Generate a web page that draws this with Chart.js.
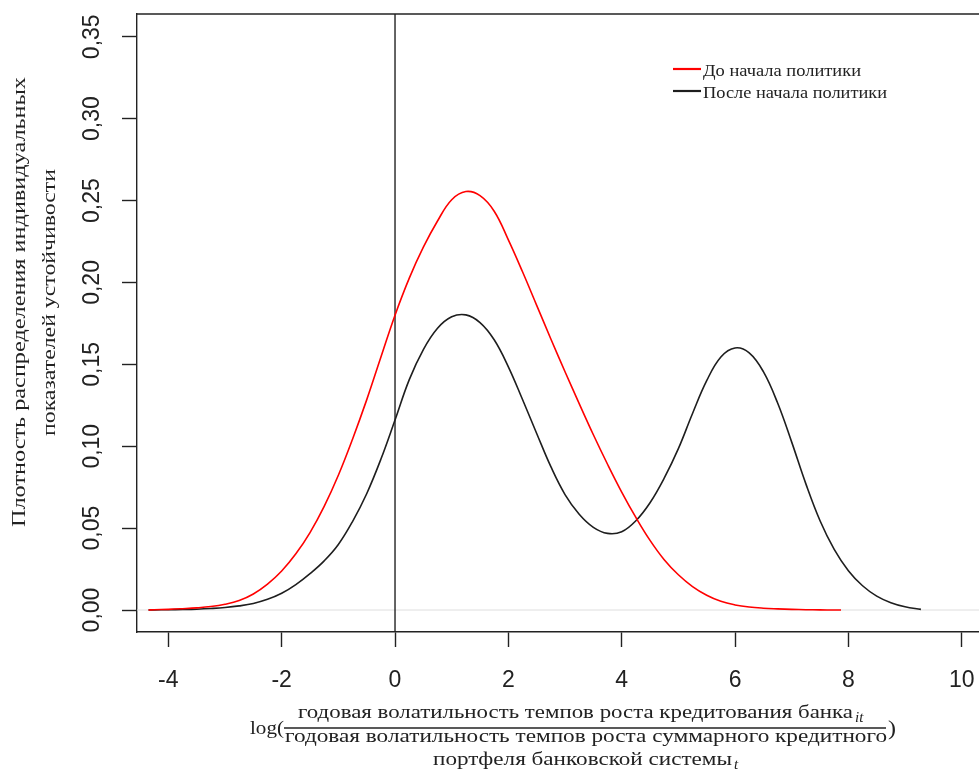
<!DOCTYPE html>
<html>
<head>
<meta charset="utf-8">
<script src="https://cdn.jsdelivr.net/npm/chart.js@4.4.1/dist/chart.umd.min.js"></script>
<style>
  html, body { margin: 0; padding: 0; background: #fff; overflow: hidden; }
</style>
</head>
<body>
<canvas id="chart" width="979" height="774"></canvas>
<script>
// tick values
const xTicks = [-4, -2, 0, 2, 4, 6, 8, 10];
const yTicks = [0, 0.05, 0.10, 0.15, 0.20, 0.25, 0.30, 0.35];

// density before policy (red)
const redX = [-4.35, -4.25, -4, -3.75, -3.5, -3.25, -3, -2.75, -2.5, -2.25, -2, -1.75, -1.5, -1.25, -1, -0.75, -0.5, -0.25,
  0, 0.25, 0.5, 0.75, 1, 1.25, 1.5, 1.75, 2, 2.25, 2.5, 2.75, 3, 3.25, 3.5, 3.75, 4, 4.25, 4.5, 4.75,
  5, 5.25, 5.5, 5.75, 6, 6.25, 6.5, 6.75, 7, 7.25, 7.5, 7.75, 7.87];
const redY = [0, 0.0002, 0.0004, 0.0008, 0.0013, 0.0021, 0.0035, 0.0058, 0.0098, 0.0158, 0.0238, 0.0343, 0.0473, 0.0633, 0.0823, 0.1043, 0.1283, 0.1543,
  0.180, 0.2025, 0.2215, 0.2375, 0.2505, 0.2555, 0.253, 0.2435, 0.226, 0.2065, 0.186, 0.1655, 0.1455, 0.126, 0.107, 0.089, 0.072, 0.0565, 0.0425, 0.0307,
  0.0215, 0.0143, 0.009, 0.0053, 0.0031, 0.0018, 0.0011, 0.0007, 0.0004, 0.0002, 0.0001, 0, 0];

// density after policy (black)
const blackX = [-4.35, -4.25, -4, -3.75, -3.5, -3.25, -3, -2.75, -2.5, -2.25, -2, -1.75, -1.5, -1.25, -1, -0.75, -0.5, -0.25,
  0, 0.25, 0.5, 0.75, 1, 1.25, 1.5, 1.75, 2, 2.25, 2.5, 2.75, 3, 3.25, 3.5, 3.75, 4, 4.25, 4.5, 4.75,
  5, 5.25, 5.5, 5.75, 6, 6.25, 6.5, 6.75, 7, 7.25, 7.5, 7.75, 8, 8.25, 8.5, 8.75, 9, 9.28];
const blackY = [0, 0.0001, 0.0002, 0.0003, 0.0005, 0.0009, 0.0015, 0.0025, 0.004, 0.0065, 0.0102, 0.0155, 0.0222, 0.030, 0.040, 0.054, 0.071, 0.092,
  0.116, 0.1405, 0.159, 0.172, 0.179, 0.1802, 0.1755, 0.165, 0.1485, 0.1285, 0.1078, 0.0875, 0.0705, 0.0585, 0.0505, 0.0468, 0.0478, 0.0545, 0.0655, 0.0805,
  0.0985, 0.120, 0.140, 0.1545, 0.160, 0.157, 0.1455, 0.1265, 0.1025, 0.077, 0.0545, 0.037, 0.024, 0.0148, 0.0085, 0.0045, 0.002, 0.0004];

const seriesNames = ['До начала политики', 'После начала политики'];
const yTitle = ['Плотность распределения индивидуальных', 'показателей устойчивости'];
const xTitleNum = 'годовая волатильность темпов роста кредитования банка';
const xTitleDen = 'годовая волатильность темпов роста суммарного кредитного';
const xTitleLast = 'портфеля банковской системы';

const INK = '#222';

function pts(xs, ys) {
  return xs.map((v, i) => ({x: v, y: ys[i]}));
}

// draw text squeezed/stretched to a given width
function fitText(ctx, text, x, y, w) {
  const m = ctx.measureText(text).width;
  ctx.save();
  ctx.translate(x, y);
  ctx.scale(w / m, 1);
  ctx.fillText(text, 0, 0);
  ctx.restore();
}

// no extra room for overhanging tick labels
function noPad(s) {
  s.paddingLeft = 0; s.paddingRight = 0; s.paddingTop = 0; s.paddingBottom = 0;
}

const decor = {
  id: 'decor',
  beforeDatasetsDraw(chart) {
    const {ctx, chartArea: a, scales: {x, y}} = chart;
    ctx.save();
    // zero density line
    const y0 = y.getPixelForValue(0);
    ctx.strokeStyle = '#dedede';
    ctx.lineWidth = 1;
    ctx.beginPath(); ctx.moveTo(a.left, y0); ctx.lineTo(a.right, y0); ctx.stroke();
    // vertical line at 0
    const x0 = x.getPixelForValue(0);
    ctx.strokeStyle = INK;
    ctx.lineWidth = 1.4;
    ctx.beginPath(); ctx.moveTo(x0, a.top); ctx.lineTo(x0, a.bottom); ctx.stroke();
    ctx.restore();
  },
  afterDraw(chart) {
    const {ctx, chartArea: a} = chart;
    ctx.save();
    // top of the box
    ctx.strokeStyle = INK;
    ctx.lineWidth = 1.4;
    ctx.beginPath(); ctx.moveTo(a.left, a.top); ctx.lineTo(a.right, a.top); ctx.stroke();

    // legend
    ctx.font = '17px "Liberation Serif"';
    ctx.textBaseline = 'alphabetic';
    ctx.textAlign = 'left';
    const legW = [158, 184];
    chart.data.datasets.forEach((ds, i) => {
      const ly = 69 + i * 22;
      ctx.strokeStyle = ds.borderColor;
      ctx.lineWidth = 2.2;
      ctx.beginPath(); ctx.moveTo(673, ly); ctx.lineTo(701, ly); ctx.stroke();
      ctx.fillStyle = INK;
      fitText(ctx, ds.label, 703, ly + 7, legW[i]);
    });

    // y axis title
    ctx.font = '18px "Liberation Serif"';
    ctx.fillStyle = INK;
    ctx.save();
    ctx.translate(25, 302);
    ctx.rotate(-Math.PI / 2);
    fitText(ctx, yTitle[0], -225, 0, 450);
    ctx.restore();
    ctx.save();
    ctx.translate(55, 303);
    ctx.rotate(-Math.PI / 2);
    fitText(ctx, yTitle[1], -133, 0, 267);
    ctx.restore();

    // x axis title
    ctx.font = '18px "Liberation Serif"';
    fitText(ctx, 'log(', 250, 734, 34);
    fitText(ctx, xTitleNum, 298, 718, 555);
    fitText(ctx, xTitleDen, 285, 742, 602);
    fitText(ctx, xTitleLast, 433, 765, 299);
    ctx.font = '20px "Liberation Serif"';
    fitText(ctx, ')', 888, 735, 8);
    ctx.font = 'italic 15px "Liberation Serif"';
    ctx.fillText('it', 855, 722);
    ctx.fillText('t', 734, 769);
    ctx.strokeStyle = INK;
    ctx.lineWidth = 1.3;
    ctx.beginPath(); ctx.moveTo(284, 728); ctx.lineTo(886, 728); ctx.stroke();
    ctx.restore();
  }
};

new Chart(document.getElementById('chart'), {
  type: 'line',
  data: {
    datasets: [
      {
        label: seriesNames[0],
        data: pts(redX, redY),
        borderColor: '#ff0000',
        borderWidth: 1.6,
        pointRadius: 0,
        tension: 0.4
      },
      {
        label: seriesNames[1],
        data: pts(blackX, blackY),
        borderColor: '#1e1e1e',
        borderWidth: 1.6,
        pointRadius: 0,
        tension: 0.4
      }
    ]
  },
  options: {
    responsive: false,
    animation: false,
    layout: {padding: {top: 14, left: 0, right: 0, bottom: 0}},
    plugins: {legend: {display: false}, tooltip: {enabled: false}},
    scales: {
      x: {
        type: 'linear',
        min: -4.553,
        max: 10.305,
        afterBuildTicks: (s) => { s.ticks = xTicks.map(v => ({value: v})); },
        afterFit: (s) => { s.height = 142; noPad(s); },
        grid: {drawOnChartArea: false, drawTicks: true, tickLength: 15, tickColor: INK, tickWidth: 1.4},
        border: {display: true, color: INK, width: 1.4},
        ticks: {
          padding: 20,
          maxRotation: 0,
          color: INK,
          font: {family: 'Liberation Sans', size: 23},
          callback: (v) => String(v)
        }
      },
      y: {
        type: 'linear',
        min: -0.01343,
        max: 0.3639,
        afterBuildTicks: (s) => { s.ticks = yTicks.map(v => ({value: v})); },
        afterFit: (s) => { s.width = 137; noPad(s); },
        grid: {drawOnChartArea: false, drawTicks: true, tickLength: 15, tickColor: INK, tickWidth: 1.4},
        border: {display: true, color: INK, width: 1.4},
        ticks: {
          padding: 7,
          minRotation: 90,
          maxRotation: 90,
          crossAlign: 'center',
          color: INK,
          font: {family: 'Liberation Sans', size: 23},
          callback: (v) => v.toFixed(2).replace('.', ',')
        }
      }
    }
  },
  plugins: [decor]
});
</script>
</body>
</html>
